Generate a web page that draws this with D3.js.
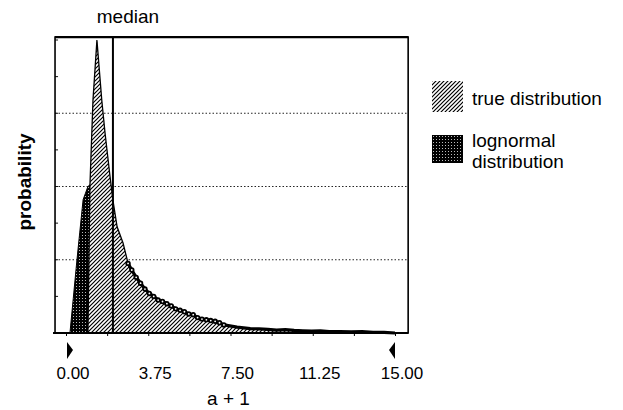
<!DOCTYPE html>
<html>
<head>
<meta charset="utf-8">
<script src="https://cdn.jsdelivr.net/npm/d3@7"></script>
<style>
    body { margin: 0; background: #fff; }
    svg { font-family: "Liberation Sans", Arial, sans-serif; }
</style>
</head>
<body>
<div id="chart"></div>
<script>
// true distribution outline (a + 1, probability)
const trueX = [1.00, 1.09, 1.23, 1.41, 1.63, 1.78, 2.01, 2.14, 2.33, 2.60, 2.83,
    3.00, 3.20, 3.40, 3.60, 3.80, 4.00, 4.20, 4.40, 4.60, 4.80, 5.00, 5.20, 5.40,
    5.60, 5.80, 6.00, 6.20, 6.40, 6.60, 6.80, 7.00, 7.20, 7.40, 7.60, 7.80, 8.10,
    8.40, 8.80, 9.20, 9.60, 10.0, 10.4, 10.8, 11.2, 11.6, 12.0, 12.5, 13.0, 13.5,
    14.0, 14.5, 15.0];
const trueY = [0.00, 2.00, 3.18, 4.00, 3.18, 2.73, 2.13, 1.81, 1.45, 1.23, 0.95,
    0.86, 0.76, 0.68, 0.60, 0.54, 0.50, 0.45, 0.43, 0.40, 0.37, 0.33, 0.31, 0.29,
    0.26, 0.25, 0.21, 0.19, 0.18, 0.17, 0.16, 0.14, 0.11, 0.10, 0.09, 0.08, 0.07,
    0.06, 0.055, 0.05, 0.04, 0.045, 0.035, 0.03, 0.025, 0.03, 0.02, 0.02, 0.015, 0.02,
    0.01, 0.008, 0.00];

// lognormal fit (largely hidden behind the true distribution)
const lnX = [0.18, 0.50, 0.78, 1.00, 1.20, 1.50, 2.00, 2.50, 3.00];
const lnY = [0.00, 1.00, 1.82, 2.00, 2.05, 1.80, 1.00, 0.40, 0.00];

const medianX = 2.14;
const xTicks = [0, 1.875, 3.75, 5.625, 7.5, 9.375, 11.25, 13.125, 15];
const xLabels = [0, 3.75, 7.5, 11.25, 15];
const gridY = [1, 2, 3];
const legendItems = ["true distribution", "lognormal|distribution"];

const W = 623, H = 410;
const svg = d3.select("#chart").append("svg")
    .attr("width", W)
    .attr("height", H);

const x = d3.scaleLinear().domain([0, 15]).range([66, 395]);
const y = d3.scaleLinear().domain([0, 4]).range([333, 40]);

const plotLeft = x(-0.5), plotRight = x(15.6), plotTop = y(4.04), plotBottom = y(0);

// patterns
const defs = svg.append("defs");
const hatch = defs.append("pattern")
    .attr("id", "hatch")
    .attr("patternUnits", "userSpaceOnUse")
    .attr("width", 4).attr("height", 4);
hatch.append("rect").attr("width", 4).attr("height", 4).attr("fill", "#fff");
hatch.append("path")
    .attr("d", "M-1,1 l2,-2 M0,4 l4,-4 M3,5 l2,-2")
    .attr("stroke", "#000").attr("stroke-width", 1.2);

const dots = defs.append("pattern")
    .attr("id", "dots")
    .attr("patternUnits", "userSpaceOnUse")
    .attr("width", 3).attr("height", 3);
dots.append("rect").attr("width", 3).attr("height", 3).attr("fill", "#000");
dots.append("rect").attr("x", 1).attr("y", 1).attr("width", 1).attr("height", 1).attr("fill", "#bbb");

// gridlines
svg.append("g").selectAll("line")
    .data(gridY)
    .join("line")
    .attr("x1", plotLeft).attr("x2", plotRight)
    .attr("y1", d => y(d)).attr("y2", d => y(d))
    .attr("stroke", "#222")
    .attr("stroke-width", 1.2)
    .attr("stroke-dasharray", "1.5,2");

// minor ticks on the left axis
svg.append("g").selectAll("line")
    .data(d3.range(0.5, 4.01, 0.5))
    .join("line")
    .attr("x1", plotLeft).attr("x2", plotLeft + 3)
    .attr("y1", d => y(d)).attr("y2", d => y(d))
    .attr("stroke", "#111");

const area = d3.area()
    .x(d => x(d[0]))
    .y0(y(0))
    .y1(d => y(d[1]));

svg.append("path")
    .datum(d3.zip(lnX, lnY))
    .attr("d", area)
    .attr("fill", "url(#dots)")
    .attr("stroke", "#000")
    .attr("stroke-width", 1);

const truePts = d3.zip(trueX, trueY);
svg.append("path")
    .datum(truePts)
    .attr("d", area)
    .attr("fill", "url(#hatch)")
    .attr("stroke", "#000")
    .attr("stroke-width", 1.3);

// thick noisy tail with markers
const tail = truePts.filter(d => d[0] >= 2.83);
svg.append("path")
    .datum(tail)
    .attr("d", d3.line().x(d => x(d[0])).y(d => y(d[1])))
    .attr("fill", "none")
    .attr("stroke", "#000")
    .attr("stroke-width", 3.2);

svg.append("g").selectAll("circle")
    .data(tail.filter(d => d[0] <= 7.2))
    .join("circle")
    .attr("cx", d => x(d[0]))
    .attr("cy", d => y(d[1]))
    .attr("r", 1.8)
    .attr("fill", "#fff")
    .attr("stroke", "#000")
    .attr("stroke-width", 1.8);

// median line
svg.append("line")
    .attr("x1", x(medianX)).attr("x2", x(medianX))
    .attr("y1", plotTop).attr("y2", plotBottom)
    .attr("stroke", "#000")
    .attr("stroke-width", 2);

svg.append("text")
    .attr("x", x(medianX) + 15)
    .attr("y", 23)
    .attr("text-anchor", "middle")
    .style("font-size", "19px")
    .text("median");

// frame
svg.append("path")
    .attr("d", `M${plotLeft},${plotBottom} V${plotTop} H${plotRight} V${plotBottom} Z`)
    .attr("fill", "none")
    .attr("stroke", "#000")
    .attr("stroke-width", 1.6);
svg.append("line")
    .attr("x1", plotLeft).attr("x2", plotRight)
    .attr("y1", plotTop).attr("y2", plotTop)
    .attr("stroke", "#000").attr("stroke-width", 2.2);
svg.append("line")
    .attr("x1", plotLeft - 2).attr("x2", plotRight)
    .attr("y1", plotBottom).attr("y2", plotBottom)
    .attr("stroke", "#000").attr("stroke-width", 2.2);

// x axis ticks and labels
const xAxis = svg.append("g")
    .attr("transform", `translate(0,${plotBottom})`)
    .call(d3.axisBottom(x).tickValues(xTicks).tickSize(3).tickFormat(""));
xAxis.select(".domain").remove();
xAxis.selectAll("line").attr("stroke", "#000");

svg.append("g").selectAll("text")
    .data(xLabels)
    .join("text")
    .attr("x", d => x(d) + 7)
    .attr("y", 379)
    .attr("text-anchor", "middle")
    .style("font-size", "17px")
    .text(d3.format(".2f"));

// range markers
svg.append("path")
    .attr("d", `M${x(0) + 1},342 L${x(0) + 7},350 L${x(0) + 1},359 Z`)
    .attr("fill", "#000");
svg.append("path")
    .attr("d", `M${x(15)},342 L${x(15) - 6},350 L${x(15)},359 Z`)
    .attr("fill", "#000");

svg.append("text")
    .attr("x", x(7.5) - 2)
    .attr("y", 405)
    .attr("text-anchor", "middle")
    .style("font-size", "19px")
    .text("a + 1");

svg.append("text")
    .attr("transform", `translate(31,182) rotate(-90)`)
    .attr("text-anchor", "middle")
    .style("font-size", "19px")
    .style("font-weight", "bold")
    .text("probability");

// legend
const legend = svg.append("g").attr("transform", "translate(432,81)");
const swatchFill = ["url(#hatch)", "url(#dots)"];
legendItems.forEach((label, i) => {
    const g = legend.append("g").attr("transform", `translate(0,${i * 54})`);
    g.append("rect")
        .attr("width", 31)
        .attr("height", i === 0 ? 31 : 28)
        .attr("fill", swatchFill[i]);
    const lines = label.split("|");
    lines.forEach((ln, j) => {
        g.append("text")
            .attr("x", 40)
            .attr("y", (lines.length === 1 ? 24 : 12) + j * 21)
            .style("font-size", "19px")
            .text(ln);
    });
});
</script>
</body>
</html>
